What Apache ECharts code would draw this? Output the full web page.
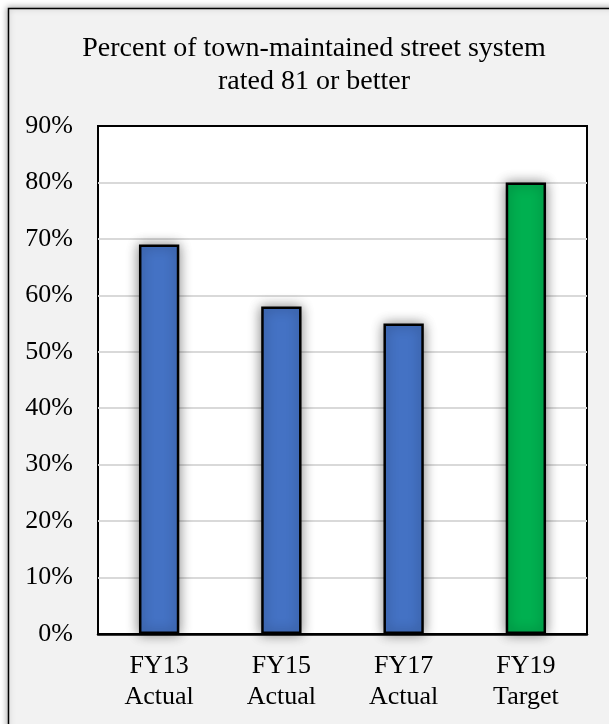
<!DOCTYPE html>
<html>
<head>
<meta charset="utf-8">
<script src="https://cdn.jsdelivr.net/npm/echarts@6/dist/echarts.min.js"></script>
<style>
  html, body { margin: 0; padding: 0; background: #ffffff; }
  #chart { width: 609px; height: 724px; }
</style>
</head>
<body>
<div id="chart"></div>
<script>
// Street condition performance measures
const categories = ['FY13\nActual', 'FY15\nActual', 'FY17\nActual', 'FY19\nTarget'];
const percentRated81 = [69, 58, 55, 80];
const barColors = ['#4472C4', '#4472C4', '#4472C4', '#00B050'];
const yTicks = { min: 0, max: 90, step: 10 };
const titleText = 'Percent of town-maintained street system\nrated 81 or better';

const font = '"Liberation Serif", "Times New Roman", serif';

const chart = echarts.init(document.getElementById('chart'), null, { renderer: 'canvas' });

chart.setOption({
  backgroundColor: '#ffffff',
  animation: false,
  graphic: [{
    type: 'rect',
    z: -10,
    shape: { x: 8.5, y: 8.5, width: 640, height: 760 },
    style: {
      fill: '#f2f2f2',
      stroke: '#000000',
      lineWidth: 1.5,
      shadowBlur: 6,
      shadowColor: 'rgba(0,0,0,0.35)',
      shadowOffsetX: -1,
      shadowOffsetY: -1
    }
  }],
  title: {
    text: titleText,
    left: 309,
    top: 27,
    textAlign: 'center',
    textStyle: {
      fontFamily: font,
      fontSize: 28,
      fontWeight: 'normal',
      color: '#000000',
      lineHeight: 33
    }
  },
  grid: {
    left: 98,
    right: 22,
    top: 126,
    bottom: 90,
    show: true,
    backgroundColor: '#ffffff',
    borderColor: '#000000',
    borderWidth: 2,
    containLabel: false
  },
  xAxis: {
    type: 'category',
    data: categories,
    axisLine: { show: true, lineStyle: { color: '#000000', width: 2.5 } },
    axisTick: { show: false },
    axisLabel: {
      fontFamily: font,
      fontSize: 26,
      color: '#000000',
      lineHeight: 31,
      margin: 17
    }
  },
  yAxis: {
    type: 'value',
    min: yTicks.min,
    max: yTicks.max,
    interval: yTicks.step,
    axisLine: { show: false },
    axisTick: { show: false },
    splitLine: {
      show: true,
      showMinLine: false,
      showMaxLine: false,
      lineStyle: { color: '#d9d9d9', width: 2 }
    },
    axisLabel: {
      formatter: '{value}%',
      fontFamily: font,
      fontSize: 26,
      color: '#000000',
      margin: 25
    }
  },
  series: [{
    type: 'bar',
    data: percentRated81.map((v, i) => ({ value: v, itemStyle: { color: barColors[i] } })),
    barWidth: '33%',
    itemStyle: {
      borderColor: '#000000',
      borderWidth: 2.5,
      shadowBlur: 12,
      shadowColor: 'rgba(0,0,0,0.45)'
    }
  }]
});
</script>
</body>
</html>
